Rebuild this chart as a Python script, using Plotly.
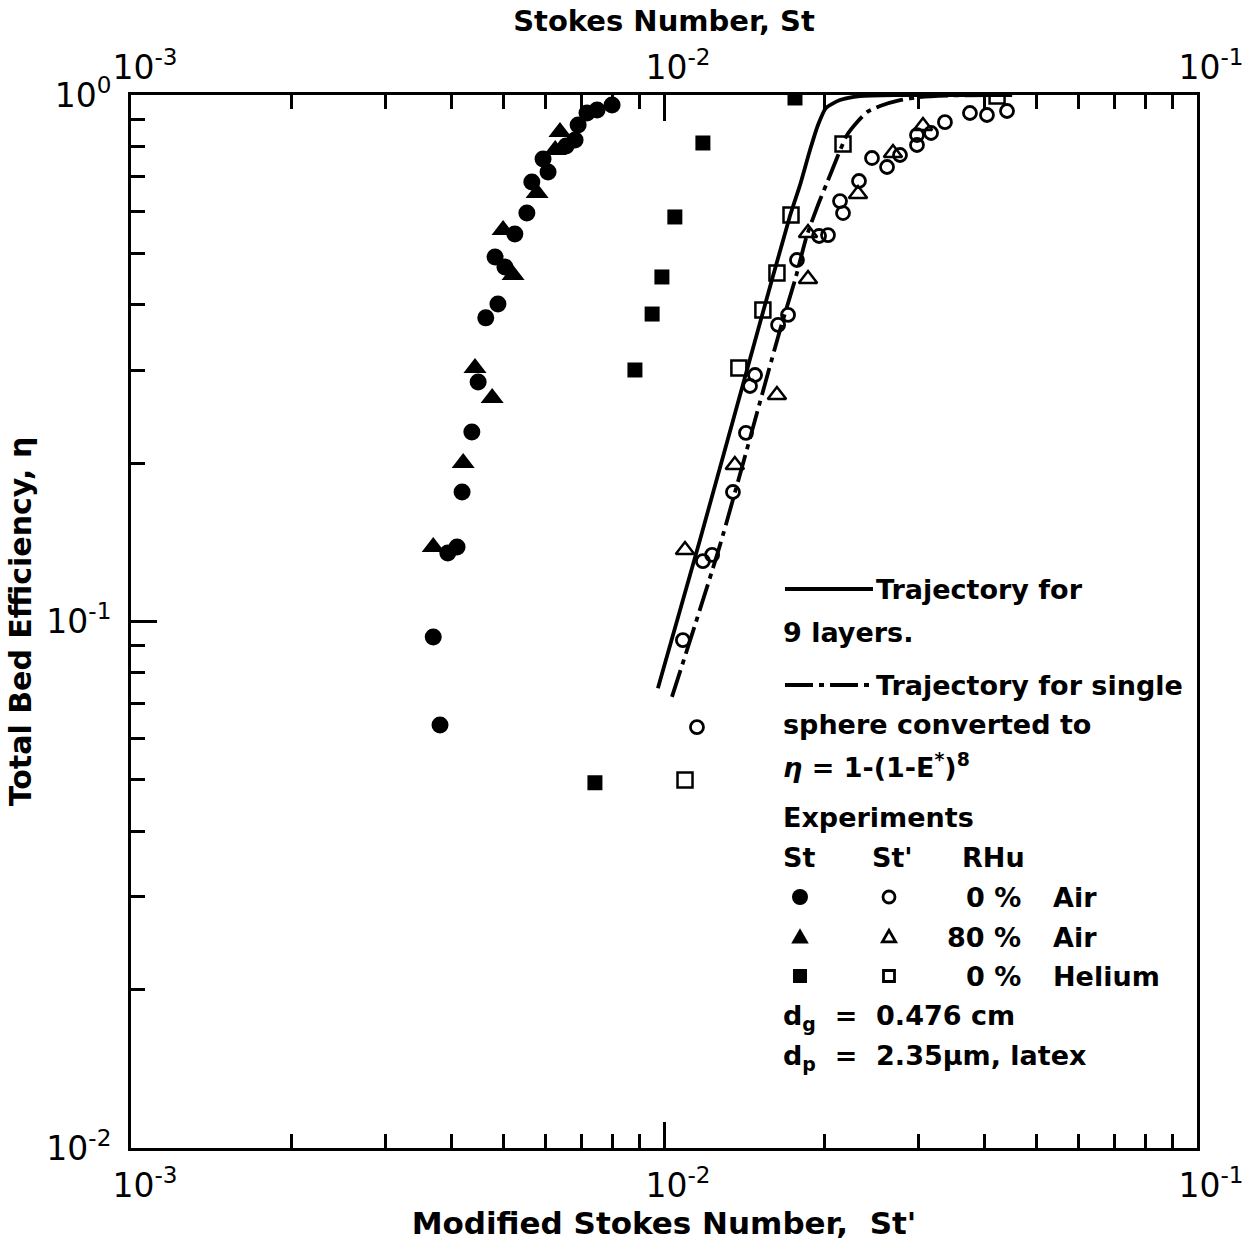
import plotly.graph_objects as go

# ---------------- data ----------------
# Filled symbols: plotted against Stokes number St (top axis)
st_air0_x = [0.00380, 0.00369, 0.00393, 0.00409, 0.00418, 0.00436, 0.00448, 0.00463, 0.00488,
             0.00482, 0.00503, 0.00525, 0.00553, 0.00565, 0.00606, 0.00593, 0.00655, 0.00681,
             0.00690, 0.00717, 0.00749, 0.00799]
st_air0_y = [0.0636, 0.0934, 0.1349, 0.1385, 0.1762, 0.2291, 0.2850, 0.3773, 0.4009,
             0.4924, 0.4713, 0.5445, 0.5968, 0.6833, 0.7143, 0.7559, 0.800, 0.8213,
             0.8771, 0.9243, 0.9365, 0.9572]

st_air80_x = [0.00369, 0.00420, 0.00442, 0.00476, 0.00521, 0.00499, 0.00578, 0.00625, 0.00638]
st_air80_y = [0.1385, 0.2000, 0.3030, 0.2657, 0.4550, 0.5541, 0.6513, 0.786, 0.8506]

st_he_x = [0.00742, 0.00882, 0.00950, 0.00991, 0.01048, 0.01183, 0.01761]
st_he_y = [0.0494, 0.3004, 0.3837, 0.4512, 0.5866, 0.8107, 0.987]

# Open symbols: plotted against modified Stokes number St' (bottom axis)
stp_air0_x = [0.01153, 0.01085, 0.01183, 0.01231, 0.01347, 0.01425, 0.01450, 0.01482, 0.01637,
              0.01709, 0.01776, 0.01954, 0.02031, 0.02139, 0.02167, 0.02322, 0.02456, 0.02621,
              0.02772, 0.02983, 0.02983, 0.03170, 0.03366, 0.03750, 0.04036, 0.04401]
stp_air0_y = [0.0630, 0.0922, 0.1302, 0.1338, 0.1762, 0.2281, 0.2801, 0.2939, 0.3658,
              0.3822, 0.4860, 0.5398, 0.5420, 0.6289, 0.5968, 0.6865, 0.7591, 0.7299,
              0.7692, 0.8394, 0.8036, 0.8469, 0.888, 0.9243, 0.9163, 0.9324]

stp_air80_x = [0.01095, 0.01358, 0.01629, 0.01863, 0.01863, 0.02312, 0.02689, 0.03061]
stp_air80_y = [0.1367, 0.1983, 0.2693, 0.4473, 0.5469, 0.6485, 0.7759, 0.8730]

stp_he_x = [0.01095, 0.01382, 0.01533, 0.01629, 0.01731, 0.02167, 0.04216]
stp_he_y = [0.0500, 0.3030, 0.3906, 0.4590, 0.5917, 0.8072, 0.996]

# Theory curves
traj9_x = [0.00974, 0.01168, 0.01501, 0.01723, 0.01800, 0.01879, 0.01945, 0.02013, 0.02139,
           0.02332, 0.02772, 0.0450]
traj9_y = [0.0747, 0.1428, 0.3578, 0.589, 0.675, 0.786, 0.877, 0.945, 0.978,
           0.9956, 1.0, 1.0]

single_x = [0.01035, 0.01274, 0.01651, 0.01761, 0.01855, 0.01945, 0.02022, 0.02111, 0.02204,
            0.02302, 0.02404, 0.02543, 0.02772, 0.03022, 0.03440, 0.04271]
single_y = [0.0719, 0.1398, 0.358, 0.4452, 0.542, 0.618, 0.681, 0.759, 0.839,
            0.888, 0.928, 0.953, 0.978, 0.9913, 0.998, 1.0]

x_tickvals = [1e-3, 1e-2, 1e-1]
x_ticktext = ["10<sup>-3</sup>", "10<sup>-2</sup>", "10<sup>-1</sup>"]
y_tickvals = [1e-2, 1e-1, 1]
y_ticktext = ["10<sup>-2</sup>", "10<sup>-1</sup>", "10<sup>0</sup>"]

# ---------------- figure ----------------
FONT = "DejaVu Sans"
DASHDOT = "28px,6px,5px,6px"
fig = go.Figure()

def add_markers(x, y, symbol, size, axis, lw=0):
    fig.add_trace(go.Scatter(
        x=x, y=y, mode="markers", xaxis=axis, yaxis="y", showlegend=False,
        marker=dict(symbol=symbol, size=size, color="black",
                    line=dict(color="black", width=lw))))

fig.add_trace(go.Scatter(x=traj9_x, y=traj9_y, mode="lines", showlegend=False,
                         line=dict(color="black", width=3.8, shape="spline", smoothing=0.6)))
fig.add_trace(go.Scatter(x=single_x, y=single_y, mode="lines", showlegend=False,
                         line=dict(color="black", width=3.8, dash=DASHDOT,
                                   shape="spline", smoothing=0.6)))

add_markers(st_air0_x, st_air0_y, "circle", 17, "x2")
add_markers(st_air80_x, st_air80_y, "triangle-up", 20, "x2")
add_markers(st_he_x, st_he_y, "square", 15, "x2")
add_markers(stp_air0_x, stp_air0_y, "circle-open", 13, "x", 2.8)
add_markers(stp_air80_x, stp_air80_y, "triangle-up-open", 16, "x", 2.5)
add_markers(stp_he_x, stp_he_y, "square-open", 15, "x", 2.5)

tickfont = dict(family=FONT, size=33, color="black")
minor = dict(ticks="inside", ticklen=14, tickwidth=2.5, tickcolor="black", dtick="D1", showgrid=False)
xcommon = dict(type="log", range=[-3, -1], showgrid=False, zeroline=False, showline=True,
               linecolor="black", linewidth=3, ticks="inside", ticklen=26, tickwidth=2.5,
               tickcolor="black", tickmode="array", tickvals=x_tickvals, ticktext=x_ticktext,
               tickfont=tickfont, minor=minor, ticklabelshift=14, ticklabeloverflow="allow",
               automargin=False)

fig.update_layout(
    width=1244, height=1241,
    margin=dict(l=131, r=47, t=95, b=93, autoexpand=False),
    paper_bgcolor="white", plot_bgcolor="white",
    showlegend=False,
    xaxis=dict(**xcommon, side="bottom", ticklabelstandoff=6,
               title=dict(text="Modified Stokes Number,  St'",
                          font=dict(family=FONT, size=31, color="black", weight="bold"),
                          standoff=4)),
    xaxis2=dict(**xcommon, side="top", overlaying="x", ticklabelstandoff=0,
                title=dict(text="Stokes Number, St",
                           font=dict(family=FONT, size=29, color="black", weight="bold"),
                           standoff=4)),
    yaxis=dict(type="log", range=[-2, 0], showgrid=False, zeroline=False, showline=True,
               mirror=True, linecolor="black", linewidth=3, ticks="inside", ticklen=26,
               tickwidth=2.5, tickcolor="black", tickmode="array", tickvals=y_tickvals,
               ticktext=y_ticktext, tickfont=tickfont, minor=minor, ticklabelstandoff=10,
               ticklabeloverflow="allow", automargin=False,
               title=dict(text="Total Bed Efficiency, η",
                          font=dict(family=FONT, size=30, color="black", weight="bold"),
                          standoff=6)),
)

# ---------------- in-plot key ----------------
def xp(px):
    return (px - 131) / 1066.0

def yp(py):
    return (1148 - py) / 1053.0

tf = dict(family=FONT, size=27, color="black", weight="bold")

def text(px, py, s, anchor="left", size=None):
    f = dict(tf)
    if size:
        f["size"] = size
    fig.add_annotation(x=xp(px), y=yp(py), xref="paper", yref="paper", text=s,
                       showarrow=False, xanchor=anchor, yanchor="middle", font=f)

def key_shape(kind, px, py, filled, r):
    common = dict(xref="paper", yref="paper", xsizemode="pixel", ysizemode="pixel",
                  xanchor=xp(px), yanchor=yp(py),
                  line=dict(color="black", width=0 if filled else 2.8),
                  fillcolor="black" if filled else "rgba(0,0,0,0)")
    if kind == "circle":
        fig.add_shape(type="circle", x0=-r, x1=r, y0=-r, y1=r, **common)
    elif kind == "square":
        fig.add_shape(type="rect", x0=-r, x1=r, y0=-r, y1=r, **common)
    else:
        fig.add_shape(type="path",
                      path=f"M {-r*1.1} {-r*0.8} L {r*1.1} {-r*0.8} L 0 {r*1.1} Z", **common)

# line samples
fig.add_shape(type="line", xref="paper", yref="paper", x0=xp(785), x1=xp(873),
              y0=yp(589), y1=yp(589), line=dict(color="black", width=3.8))
fig.add_shape(type="line", xref="paper", yref="paper", x0=xp(785), x1=xp(873),
              y0=yp(685), y1=yp(685), line=dict(color="black", width=3.8, dash=DASHDOT))

text(874, 589, "Trajectory for")
text(781, 632, "9 layers.")
text(874, 685, "Trajectory for single")
text(781, 724, "sphere converted to")
text(781, 765, "<i>η</i> = 1-(1-E<sup>*</sup>)<sup>8</sup>")
text(781, 817, "Experiments")
text(781, 857, "St")
text(870, 857, "St'")
text(960, 857, "RHu")

rows = [(897, "circle", "0 %", "Air"),
        (937, "triangle", "80 %", "Air"),
        (976, "square", "0 %", "Helium")]
for py, kind, rh, gas in rows:
    key_shape(kind, 800, py, True, 8 if kind != "square" else 7)
    key_shape(kind, 889, py, False, 6 if kind != "square" else 5.5)
    text(1023, py, rh, anchor="right")
    text(1051, py, gas)

text(781, 1017, "d<sub>g</sub>  =  0.476 cm")
text(781, 1057, "d<sub>p</sub>  =  2.35μm, latex")

fig.write_html("out.html")
